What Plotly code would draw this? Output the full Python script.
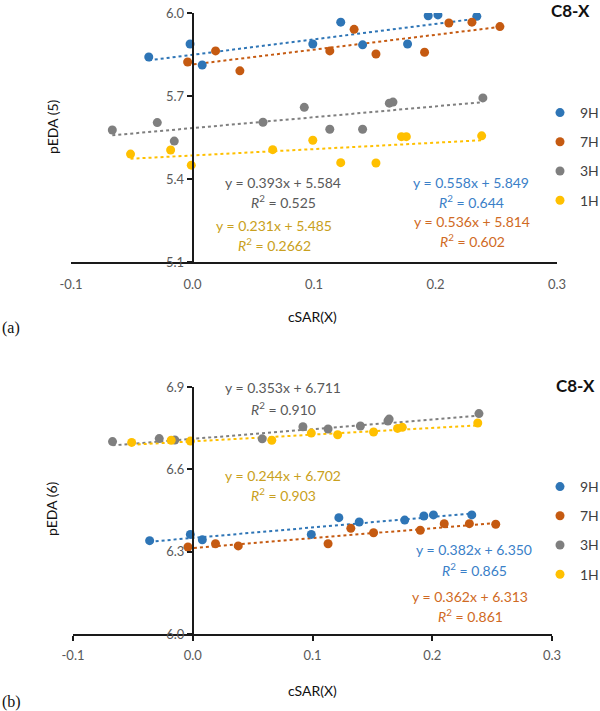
import plotly.graph_objects as go

# ---------------- data ----------------
series_names = ["9H", "7H", "3H", "1H"]
colors = ["#2E75B6", "#C55A11", "#7F7F7F", "#FFC000"]
text_colors = ["#3A80C8", "#D06A24", "#595959", "#C9A020"]

# panel (a): pEDA(5)
x9_a = [-0.036, -0.002, 0.008, 0.099, 0.122, 0.140, 0.177, 0.194, 0.202, 0.234]
y9_a = [5.841, 5.888, 5.812, 5.888, 5.967, 5.885, 5.888, 5.990, 5.993, 5.988]
x7_a = [-0.004, 0.019, 0.039, 0.113, 0.133, 0.151, 0.191, 0.211, 0.230, 0.253]
y7_a = [5.823, 5.863, 5.791, 5.863, 5.941, 5.852, 5.858, 5.964, 5.967, 5.951]
x3_a = [-0.066, -0.029, -0.015, 0.058, 0.092, 0.113, 0.140, 0.162, 0.165, 0.239]
y3_a = [5.577, 5.604, 5.537, 5.605, 5.659, 5.580, 5.580, 5.674, 5.678, 5.693]
x1_a = [-0.051, -0.018, -0.001, 0.066, 0.099, 0.122, 0.151, 0.172, 0.176, 0.238]
y1_a = [5.490, 5.505, 5.450, 5.506, 5.540, 5.459, 5.458, 5.553, 5.553, 5.556]
slopes_a = [0.558, 0.536, 0.393, 0.231]
intercepts_a = [5.849, 5.814, 5.584, 5.485]
r2_a = ["0.644", "0.602", "0.525", "0.2662"]

# panel (b): pEDA(6)
x9_b = [-0.036, -0.002, 0.008, 0.099, 0.122, 0.139, 0.177, 0.193, 0.201, 0.233]
y9_b = [6.340, 6.363, 6.343, 6.363, 6.424, 6.408, 6.415, 6.430, 6.434, 6.434]
x7_b = [-0.004, 0.019, 0.038, 0.113, 0.132, 0.151, 0.190, 0.210, 0.231, 0.253]
y7_b = [6.317, 6.329, 6.321, 6.329, 6.385, 6.369, 6.378, 6.402, 6.402, 6.400]
x3_b = [-0.067, -0.028, -0.015, 0.058, 0.092, 0.113, 0.140, 0.163, 0.164, 0.239]
y3_b = [6.701, 6.712, 6.707, 6.711, 6.755, 6.747, 6.758, 6.776, 6.783, 6.803]
x1_b = [-0.051, -0.018, -0.002, 0.066, 0.099, 0.121, 0.151, 0.171, 0.175, 0.238]
y1_b = [6.698, 6.706, 6.703, 6.706, 6.732, 6.726, 6.736, 6.749, 6.753, 6.769]
slopes_b = [0.382, 0.362, 0.353, 0.244]
intercepts_b = [6.350, 6.313, 6.711, 6.702]
r2_b = ["0.865", "0.861", "0.910", "0.903"]

x_ticks = [-0.1, 0.0, 0.1, 0.2, 0.3]
x_ticklabels = ["-0.1", "0.0", "0.1", "0.2", "0.3"]
y_ticks_a = [5.1, 5.4, 5.7, 6.0]
y_ticks_b = [6.0, 6.3, 6.6, 6.9]

# ---------------- figure ----------------
W, H = 600, 711
FONT = "Lato, 'Noto Sans', sans-serif"


def px(x):
    return x / W


def py(y):
    return 1 - y / H


fig = go.Figure()

panels = [
    dict(xs=[x9_a, x7_a, x3_a, x1_a], ys=[y9_a, y7_a, y3_a, y1_a], sl=slopes_a, ic=intercepts_a,
         xa="x", ya="y", legend="legend"),
    dict(xs=[x9_b, x7_b, x3_b, x1_b], ys=[y9_b, y7_b, y3_b, y1_b], sl=slopes_b, ic=intercepts_b,
         xa="x2", ya="y2", legend="legend2"),
]

for p in panels:
    # trend lines
    for i, name in enumerate(series_names):
        xs = p["xs"][i]
        x0, x1 = min(xs), max(xs)
        fig.add_trace(go.Scatter(
            x=[x0, x1], y=[p["sl"][i] * x0 + p["ic"][i], p["sl"][i] * x1 + p["ic"][i]],
            mode="lines", line=dict(color=colors[i], width=2, dash="dot"),
            showlegend=False, hoverinfo="skip", xaxis=p["xa"], yaxis=p["ya"]))
    # points
    for i, name in enumerate(series_names):
        fig.add_trace(go.Scatter(
            x=p["xs"][i], y=p["ys"][i], mode="markers", name=name,
            marker=dict(color=colors[i], size=9, line=dict(width=0)),
            legendgroup=p["legend"] + name, legend=p["legend"],
            xaxis=p["xa"], yaxis=p["ya"]))

# axis domains (pixel-derived)
xa_dom = [px(71), px(557)]
xb_dom = [px(73), px(552)]
ya_dom = [py(262), py(13)]
yb_dom = [py(634), py(387)]

axis_common = dict(showgrid=False, zeroline=False, showline=True, linecolor="#1a1a1a",
                   linewidth=1.5, tickfont=dict(family=FONT, size=13, color="#595959"))

fig.update_layout(
    width=W, height=H, margin=dict(l=0, r=0, t=0, b=0, autoexpand=False),
    paper_bgcolor="white", plot_bgcolor="white",
    font=dict(family=FONT, color="#404040"),
    xaxis=dict(domain=xa_dom, range=[-0.1, 0.3], anchor="y", tickvals=x_ticks,
               ticktext=x_ticklabels, ticks="", ticklabelstandoff=10, **axis_common),
    yaxis=dict(domain=ya_dom, range=[5.1, 6.0], anchor="free",
               position=xa_dom[0] + 0.25 * (xa_dom[1] - xa_dom[0]),
               tickvals=y_ticks_a, ticktext=[f"{v:.1f}" for v in y_ticks_a],
               ticks="outside", ticklen=5, tickcolor="#1a1a1a", tickwidth=1.5, **axis_common),
    xaxis2=dict(domain=xb_dom, range=[-0.1, 0.3], anchor="y2", tickvals=x_ticks,
                ticktext=x_ticklabels, ticks="outside", ticklen=5, tickcolor="#1a1a1a",
                tickwidth=1.5, ticklabelstandoff=4, **axis_common),
    yaxis2=dict(domain=yb_dom, range=[6.0, 6.9], anchor="free",
                position=xb_dom[0] + 0.25 * (xb_dom[1] - xb_dom[0]),
                tickvals=y_ticks_b, ticktext=[f"{v:.1f}" for v in y_ticks_b],
                ticks="outside", ticklen=5, tickcolor="#1a1a1a", tickwidth=1.5, **axis_common),
    legend=dict(x=px(540), y=py(97), xanchor="left", yanchor="top",
                font=dict(family=FONT, size=14, color="#404040"),
                bgcolor="rgba(0,0,0,0)", tracegroupgap=8, itemclick=False),
    legend2=dict(x=px(540), y=py(471), xanchor="left", yanchor="top",
                 font=dict(family=FONT, size=14, color="#404040"),
                 bgcolor="rgba(0,0,0,0)", tracegroupgap=8, itemclick=False),
    showlegend=True,
)

ann = []


def add_text(text, x, y, size=14, color="#404040", **kw):
    ann.append(dict(text=text, x=px(x), y=py(y), xref="paper", yref="paper",
                    xanchor="center", yanchor="middle",
                    showarrow=False, font=dict(family=FONT, size=size, color=color), **kw))


# equations: (series index, center x px, eq y px, r2 y px)
eq_pos_a = [(0, 471, 182, 202), (1, 472, 222, 241), (2, 283, 183, 202), (3, 274, 225, 244)]
eq_pos_b = [(0, 474, 549, 569), (1, 470, 596, 615), (2, 283, 388, 408), (3, 283, 475, 494)]
for (i, cx, ey, ry) in eq_pos_a:
    add_text(f"y = {slopes_a[i]:.3f}x + {intercepts_a[i]:.3f}", cx, ey, color=text_colors[i])
    add_text(f"<i>R</i><sup>2</sup> = {r2_a[i]}", cx, ry, color=text_colors[i])
for (i, cx, ey, ry) in eq_pos_b:
    add_text(f"y = {slopes_b[i]:.3f}x + {intercepts_b[i]:.3f}", cx, ey, color=text_colors[i])
    add_text(f"<i>R</i><sup>2</sup> = {r2_b[i]}", cx, ry, color=text_colors[i])

# titles
add_text("<b>C8-X</b>", 570, 11, size=17, color="#111111")
add_text("<b>C8-X</b>", 575, 385, size=17, color="#111111")
add_text("cSAR(X)", 313, 316, size=14, color="#111111")
add_text("cSAR(X)", 313, 690, size=14, color="#111111")
add_text("pEDA (5)", 52, 127, size=14, color="#111111", textangle=-90)
add_text("pEDA (6)", 52, 509, size=14, color="#111111", textangle=-90)
ann.append(dict(text="(a)", x=0, y=py(328), xref="paper", yref="paper", xanchor="left",
                yanchor="middle", showarrow=False,
                font=dict(family="Liberation Serif, serif", size=16, color="#111111")))
ann.append(dict(text="(b)", x=0, y=py(702), xref="paper", yref="paper", xanchor="left",
                yanchor="middle", showarrow=False,
                font=dict(family="Liberation Serif, serif", size=16, color="#111111")))

fig.update_layout(annotations=ann)

fig.write_html("out.html", config={"displayModeBar": False},
               post_script="document.body.style.margin='0';document.body.style.overflow='hidden';")
